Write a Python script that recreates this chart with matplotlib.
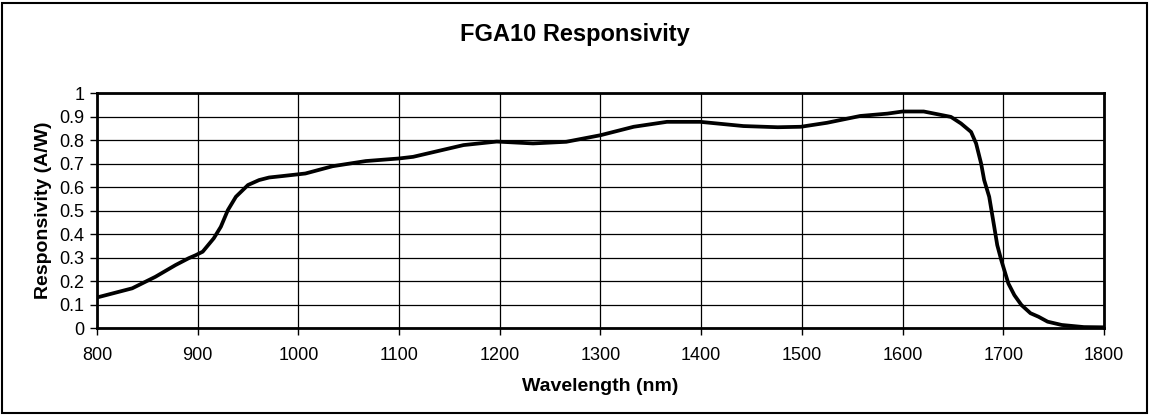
import numpy as np
import matplotlib.pyplot as plt
from matplotlib.patches import Rectangle
from matplotlib.ticker import FormatStrFormatter

plt.rcParams['font.family'] = ['Liberation Sans', 'DejaVu Sans']

# values
wavelength = [800, 835, 858, 878, 891, 898, 905, 916, 923, 930, 938, 950, 961,
              971, 984, 1007, 1034, 1067, 1100, 1114, 1164, 1197, 1233, 1266,
              1300, 1333, 1366, 1399, 1442, 1476, 1499, 1525, 1558, 1585, 1600,
              1621, 1648, 1658, 1668, 1673, 1678, 1681, 1686, 1691, 1694, 1698,
              1705, 1711, 1718, 1727, 1735, 1744, 1758, 1780, 1800]
responsivity = [0.13, 0.169, 0.218, 0.268, 0.297, 0.31, 0.325, 0.382, 0.431,
                0.502, 0.559, 0.609, 0.63, 0.641, 0.647, 0.658, 0.689, 0.711,
                0.722, 0.729, 0.779, 0.794, 0.786, 0.793, 0.821, 0.857, 0.878,
                0.878, 0.86, 0.855, 0.857, 0.874, 0.903, 0.913, 0.922, 0.922,
                0.899, 0.871, 0.835, 0.786, 0.70, 0.63, 0.559, 0.431, 0.353,
                0.289, 0.19, 0.14, 0.098, 0.063, 0.048, 0.027, 0.013, 0.004, 0.003]
x_ticks = list(range(800, 1801, 100))
y_ticks = [0, 0.1, 0.2, 0.3, 0.4, 0.5, 0.6, 0.7, 0.8, 0.9, 1.0]

fig = plt.figure(figsize=(11.5, 4.16), dpi=100)
ax = fig.add_axes([0.0843, 0.2115, 0.8757, 0.5645])

ax.plot(wavelength, responsivity, color='black', lw=2.7,
        solid_capstyle='round', solid_joinstyle='round')

ax.set_xlim(800, 1800)
ax.set_ylim(0, 1)
ax.set_xticks(x_ticks)
ax.set_yticks(y_ticks)
ax.yaxis.set_major_formatter(FormatStrFormatter('%g'))
ax.grid(True, color='black', lw=0.9)
ax.set_axisbelow(True)
for s in ax.spines.values():
    s.set_linewidth(2)
ax.tick_params(direction='out', length=5, width=1, labelsize=13, pad=4)
ax.tick_params(axis='x', pad=9)

ax.set_xlabel('Wavelength (nm)', fontsize=14, fontweight='bold', labelpad=10)
ax.set_ylabel('Responsivity (A/W)', fontsize=14, fontweight='bold', labelpad=5)
fig.text(0.5, 0.918, 'FGA10 Responsivity', ha='center', va='center',
         fontsize=17, fontweight='bold')

# outer border around the whole chart
fig.patches.append(Rectangle((0.002, 0.007), 0.995, 0.985, transform=fig.transFigure,
                             fill=False, edgecolor='black', lw=1.5))

fig.savefig('out.png', dpi=100)
